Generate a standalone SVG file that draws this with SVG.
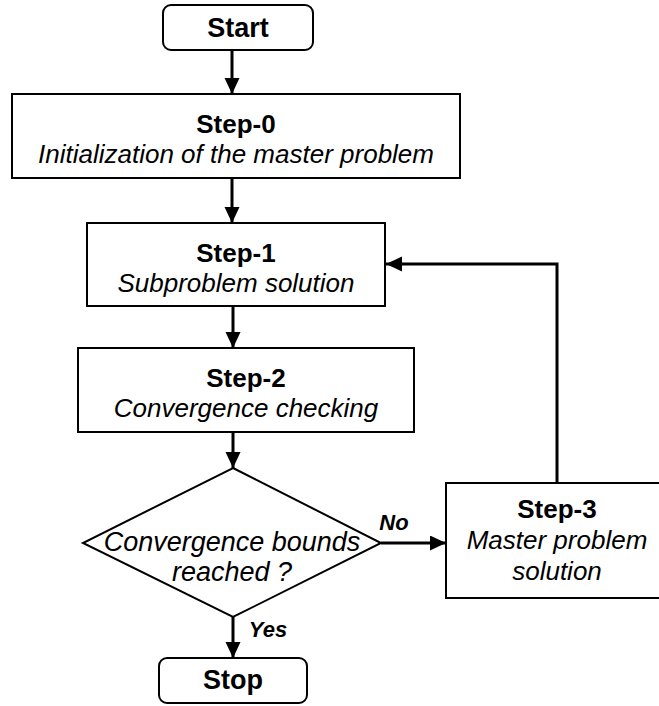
<svg xmlns="http://www.w3.org/2000/svg" width="659" height="706" viewBox="0 0 659 706">
<style>
.box{fill:#fff;stroke:#000;stroke-width:2}
.c{stroke:#000;stroke-width:3;fill:none}
.t{font-family:"Liberation Sans",Arial,sans-serif;text-anchor:middle;fill:#000}
.b{font-weight:bold;font-size:26px}
.i{font-style:italic;font-size:26px}
.di{font-style:italic;font-size:27px}
.big{font-weight:bold;font-size:27px}
.lbl{font-weight:bold;font-style:italic;font-size:22px}
</style>
<defs>
<marker id="ah" markerUnits="userSpaceOnUse" markerWidth="17" markerHeight="16" refX="16" refY="7.5" orient="auto">
<path d="M0,0 L16,7.5 L0,15 z" fill="#000"/>
</marker>
</defs>
<rect width="659" height="706" fill="#fff"/>
<g id="connectors">
<line class="c" x1="232" y1="50" x2="232" y2="94" marker-end="url(#ah)"/>
<line class="c" x1="232" y1="178" x2="232" y2="223" marker-end="url(#ah)"/>
<line class="c" x1="233" y1="306" x2="233" y2="348" marker-end="url(#ah)"/>
<line class="c" x1="233" y1="432" x2="233" y2="468" marker-end="url(#ah)"/>
<line class="c" x1="381" y1="543" x2="446" y2="543" marker-end="url(#ah)"/>
<line class="c" x1="233" y1="617" x2="233" y2="658" marker-end="url(#ah)"/>
<path class="c" d="M557,483 V264 H386" marker-end="url(#ah)"/>
<text class="t lbl" x="394" y="530">No</text>
<text class="t lbl" x="268" y="637">Yes</text>
</g>
<g id="start">
<rect class="box" x="163" y="5" width="150" height="45" rx="8"/>
<text class="t big" x="238" y="37">Start</text>
</g>
<g id="step0">
<rect class="box" x="12" y="94" width="448" height="84"/>
<text class="t b" x="236" y="133">Step-0</text>
<text class="t i" x="236" y="163">Initialization of the master problem</text>
</g>
<g id="step1">
<rect class="box" x="87" y="223" width="298" height="83"/>
<text class="t b" x="236" y="262">Step-1</text>
<text class="t i" x="236" y="292">Subproblem solution</text>
</g>
<g id="step2">
<rect class="box" x="78" y="348" width="336" height="84"/>
<text class="t b" x="246" y="387">Step-2</text>
<text class="t i" x="246" y="417">Convergence checking</text>
</g>
<g id="decision">
<polygon class="box" points="233,468 381,543 233,617 83,543"/>
<text class="t di" x="232" y="551">Convergence bounds</text>
<text class="t di" x="232" y="581">reached ?</text>
</g>
<g id="step3">
<rect class="box" x="446" y="483" width="222" height="115"/>
<text class="t b" x="557" y="518">Step-3</text>
<text class="t i" x="557" y="549">Master problem</text>
<text class="t i" x="557" y="580">solution</text>
</g>
<g id="stop">
<rect class="box" x="159" y="658" width="148" height="45" rx="8"/>
<text class="t big" x="233" y="689">Stop</text>
</g>
</svg>
